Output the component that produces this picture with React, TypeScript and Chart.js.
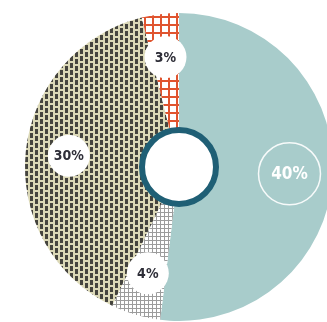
import { useEffect, useRef } from "react";
import { Chart, registerables } from "chart.js";

Chart.register(...registerables);

// Slice data, clockwise from 12 o'clock
const categories = ["Group A", "Group B", "Group C", "Group D"];
const shares = [40, 4, 30, 3];
const shareLabels = ["40%", "4%", "30%", "3%"];

function tile(w: number, h: number, paint: (c: CanvasRenderingContext2D) => void) {
  const cv = document.createElement("canvas");
  cv.width = w;
  cv.height = h;
  const c = cv.getContext("2d")!;
  paint(c);
  return c.createPattern(cv, "repeat")!;
}

function makeFills(): (string | CanvasPattern)[] {
  const teal = "#a8cccb";
  // fine light-grey grid
  const greyGrid = tile(4, 4, (c) => {
    c.fillStyle = "#ffffff";
    c.fillRect(0, 0, 4, 4);
    c.fillStyle = "#9c9c9c";
    c.fillRect(0, 0, 4, 1);
    c.fillRect(0, 0, 1, 4);
  });
  // staggered dark dashes on beige
  const dashes = tile(10, 7, (c) => {
    c.fillStyle = "#dbd8b7";
    c.fillRect(0, 0, 10, 7);
    c.fillStyle = "#45443e";
    c.fillRect(0, 0, 3, 5);
    c.fillRect(5, 3, 3, 4);
    c.fillRect(5, 0, 3, 1);
  });
  // open red grid on white
  const redGrid = tile(8, 8, (c) => {
    c.fillStyle = "#ffffff";
    c.fillRect(0, 0, 8, 8);
    c.fillStyle = "#e0542f";
    c.fillRect(0, 0, 8, 2);
    c.fillRect(0, 0, 2, 8);
  });
  return [teal, greyGrid, dashes, redGrid];
}

const overlay = {
  id: "overlay",
  afterDatasetsDraw(chart: any) {
    const ctx: CanvasRenderingContext2D = chart.ctx;
    const arcs = chart.getDatasetMeta(0).data as any[];
    if (!arcs.length) return;
    const { x, y, innerRadius, outerRadius } = arcs[0].getProps(
      ["x", "y", "innerRadius", "outerRadius"],
      true
    );
    ctx.save();

    // centre hole with dark ring
    ctx.beginPath();
    ctx.arc(x, y, innerRadius, 0, Math.PI * 2);
    ctx.fillStyle = "#ffffff";
    ctx.fill();
    ctx.lineWidth = 6;
    ctx.strokeStyle = "#1f5f75";
    ctx.stroke();

    const labels = (chart.options.plugins.overlay?.texts as string[]) || [];
    arcs.forEach((arc: any, i: number) => {
      const { startAngle, endAngle } = arc.getProps(["startAngle", "endAngle"], true);
      const mid = (startAngle + endAngle) / 2;
      const r = innerRadius + (outerRadius - innerRadius) * 0.63;
      const lx = x + Math.cos(mid) * r;
      const ly = y + Math.sin(mid) * r;
      const text = labels[i];
      ctx.textAlign = "center";
      ctx.textBaseline = "middle";
      if (i === 0) {
        // largest slice: outlined badge with white text
        ctx.beginPath();
        ctx.arc(lx, ly, 31, 0, Math.PI * 2);
        ctx.lineWidth = 1.5;
        ctx.strokeStyle = "rgba(255,255,255,0.9)";
        ctx.stroke();
        ctx.fillStyle = "#ffffff";
        ctx.font = "bold 17px 'DejaVu Sans Condensed', 'Liberation Sans Narrow', sans-serif";
        ctx.fillText(text, lx, ly + 1);
      } else {
        ctx.beginPath();
        ctx.arc(lx, ly, 21, 0, Math.PI * 2);
        ctx.fillStyle = "#ffffff";
        ctx.fill();
        ctx.fillStyle = "#2e2e38";
        ctx.font = "bold 14px 'Liberation Sans Narrow', 'DejaVu Sans Condensed', sans-serif";
        ctx.fillText(text, lx, ly + 1);
      }
    });
    ctx.restore();
  },
};

export default function App() {
  const ref = useRef<HTMLCanvasElement>(null);

  useEffect(() => {
    if (!ref.current) return;
    const chart = new Chart(ref.current, {
      type: "doughnut",
      data: {
        labels: categories,
        datasets: [
          {
            data: shares,
            backgroundColor: makeFills() as any,
            borderWidth: 0,
          },
        ],
      },
      options: {
        responsive: false,
        animation: false,
        cutout: 37,
        rotation: 0,
        layout: { padding: { top: 13, bottom: 13, left: 0, right: 0 } },
        plugins: {
          legend: { display: false },
          tooltip: { enabled: false },
          overlay: { texts: shareLabels },
        } as any,
      },
      plugins: [overlay],
    });
    return () => chart.destroy();
  }, []);

  return (
    <div
      style={{
        position: "fixed",
        left: 0,
        top: 0,
        width: 327,
        height: 322,
        overflow: "hidden",
        background: "#ffffff",
      }}
    >
      <canvas
        ref={ref}
        width={358}
        height={334}
        style={{ position: "absolute", left: 0, top: 0, width: 358, height: 334 }}
      />
    </div>
  );
}
